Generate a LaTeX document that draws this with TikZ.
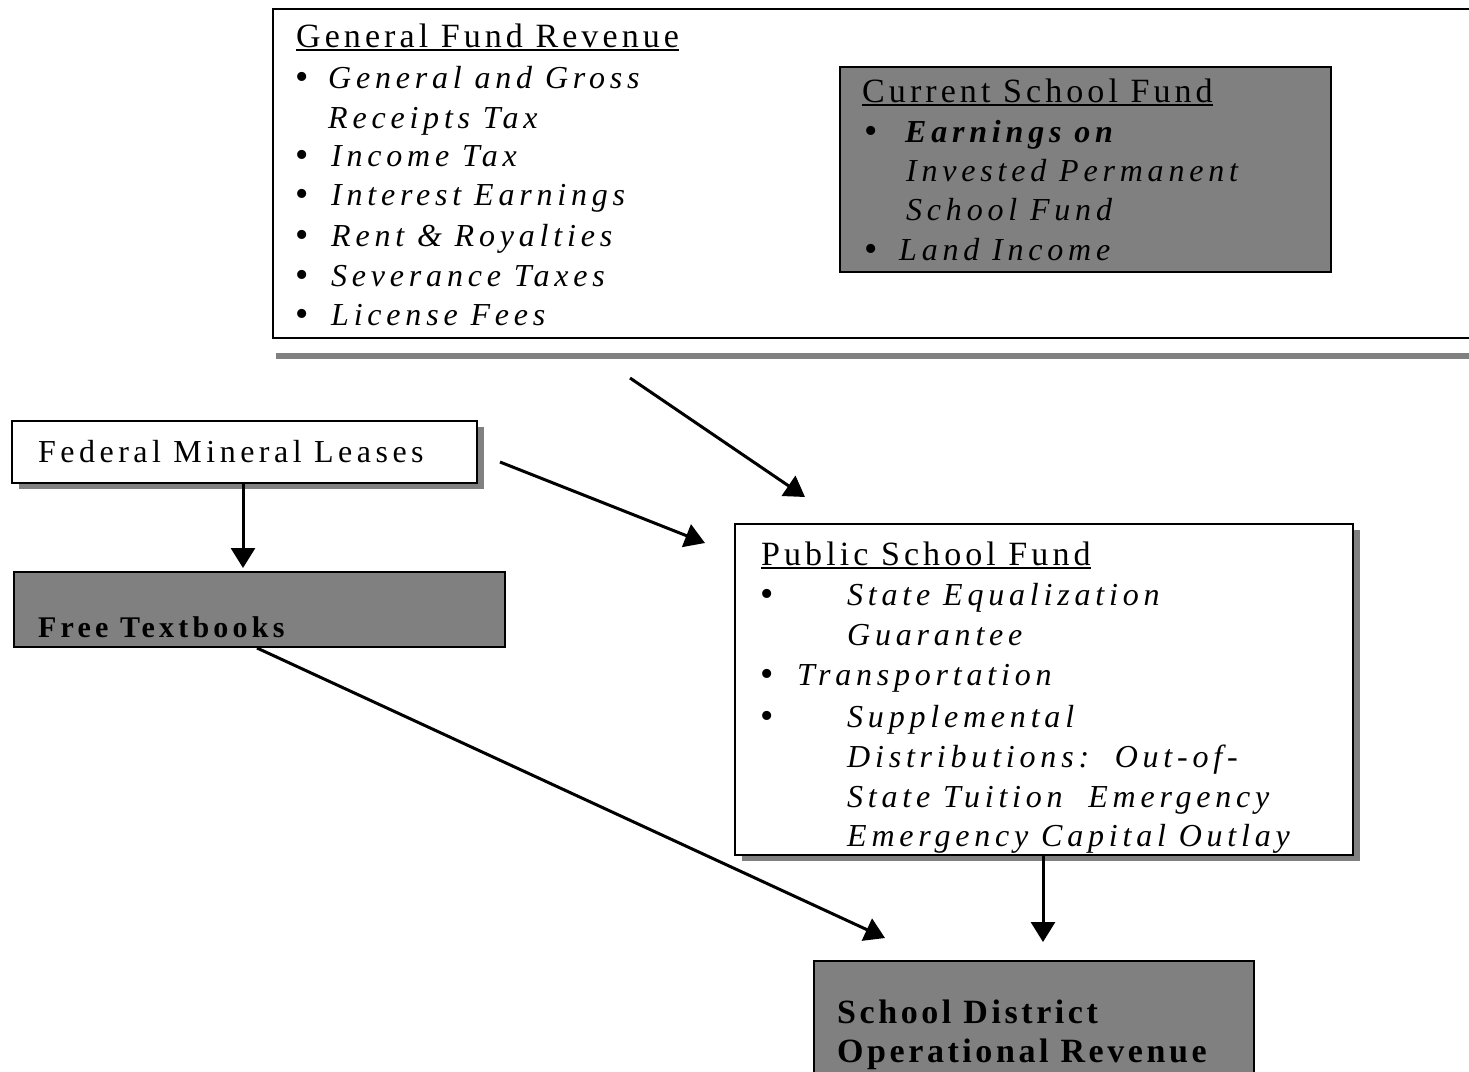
\documentclass[tikz,border=0pt]{standalone}
\usepackage{fontspec}
\usetikzlibrary{arrows.meta,shadows}
\setmainfont{Liberation Serif}
\newfontfamily\hdfam{Liberation Serif}[LetterSpace=12]
\newfontfamily\itfam{Liberation Serif}[LetterSpace=15]
\newfontfamily\fmfam{Liberation Serif}[LetterSpace=14]
\newfontfamily\bdfam{Liberation Serif}[LetterSpace=14]
\newfontfamily\sdfam{Liberation Serif}[LetterSpace=10.5]
\definecolor{boxgray}{RGB}{128,128,128}
\newcommand\ulin[1]{\setbox0\hbox{#1}\rlap{\rule[-3.5pt]{\wd0}{1.8pt}}\box0}
\tikzset{
  box/.style={draw=black, line width=2.2pt, rectangle, inner sep=0pt, anchor=north west},
  graybox/.style={box, fill=boxgray},
  whitebox/.style={box, fill=white},
  shadowed/.style={general shadow={fill=boxgray, shadow xshift=7pt, shadow yshift=-6pt}},
  hd/.style={anchor=base west, inner sep=0pt, font=\hdfam\fontsize{34}{40}\selectfont},
  itm/.style={anchor=base west, inner sep=0pt, font=\itfam\itshape\fontsize{32}{40}\selectfont},
  bul/.style={anchor=base west, inner sep=0pt, font=\fontsize{38}{40}\selectfont},
  bd/.style={anchor=base west, inner sep=0pt, font=\bdfam\bfseries\fontsize{30}{40}\selectfont},
  sd/.style={anchor=base west, inner sep=0pt, font=\sdfam\bfseries\fontsize{34}{40}\selectfont},
  flow/.style={line width=3pt, -{Triangle[length=20pt,width=24pt]}},
}
\begin{document}
\begin{tikzpicture}[x=1pt,y=-1pt]
\useasboundingbox (0,0) rectangle (1469,1071);
\clip (0,0) rectangle (1469,1071);

% General Fund Revenue panel and its bar
\node[whitebox, minimum width=1220, minimum height=329] (gfr) at (272,8) {};
\fill[boxgray] (276,353) rectangle (1490,359);

\node[hd] (gfrh) at (296,47) {\ulin{General Fund Revenue}};
\node[bul] (gb1) at (295,89) {•};
\node[itm] (gi1) at (328,88) {General and Gross};
\node[itm] (gi1b) at (328,128) {Receipts Tax};
\node[bul] (gb2) at (295,167) {•};
\node[itm] (gi2) at (331,166) {Income Tax};
\node[bul] (gb3) at (295,206) {•};
\node[itm] (gi3) at (331,205) {Interest Earnings};
\node[bul] (gb4) at (295,247) {•};
\node[itm] (gi4) at (331,246) {Rent \& Royalties};
\node[bul] (gb5) at (295,287) {•};
\node[itm] (gi5) at (331,286) {Severance Taxes};
\node[bul] (gb6) at (295,326) {•};
\node[itm] (gi6) at (331,325) {License Fees};

% Current School Fund
\node[graybox, minimum width=491, minimum height=205] (csf) at (839,66) {};
\node[hd] (csfh) at (862,102) {\ulin{Current School Fund}};
\node[bul] (cb1) at (864,143) {•};
\node[itm, font=\itfam\bfseries\itshape\fontsize{32}{40}\selectfont] (ci1) at (905,142) {Earnings on};
\node[itm] (ci1b) at (906,181) {Invested Permanent};
\node[itm] (ci1c) at (906,220) {School Fund};
\node[bul] (cb2) at (864,261) {•};
\node[itm] (ci2) at (899,260) {Land Income};

% Federal Mineral Leases
\node[whitebox, shadowed, minimum width=465, minimum height=62] (fml) at (11,420) {};
\node[hd, font=\fmfam\fontsize{32}{40}\selectfont] (fmlt) at (38,462) {Federal Mineral Leases};

% Free Textbooks
\node[graybox, minimum width=491, minimum height=75] (ftb) at (13,571) {};
\node[bd] (ftbt) at (38,637) {Free Textbooks};

% Public School Fund
\node[whitebox, shadowed, minimum width=618, minimum height=331] (psf) at (734,523) {};
\node[hd] (psfh) at (761,565) {\ulin{Public School Fund}};
\node[bul] (pb1) at (760,606) {•};
\node[itm] (pi1) at (847,605) {State Equalization};
\node[itm] (pi1b) at (847,645) {Guarantee};
\node[bul] (pb2) at (760,686) {•};
\node[itm] (pi2) at (797,685) {Transportation};
\node[bul] (pb3) at (760,728) {•};
\node[itm] (pi3) at (847,727) {Supplemental};
\node[itm] (pi3b) at (847,767) {Distributions:\ \ Out-of-};
\node[itm] (pi3c) at (847,807) {State Tuition\ \ Emergency};
\node[itm] (pi3d) at (847,846) {Emergency Capital Outlay};

% School District Operational Revenue
\node[graybox, minimum width=440, minimum height=140] (sdr) at (813,960) {};
\node[sd] (sdr1) at (837,1023) {School District};
\node[sd] (sdr2) at (837,1062) {Operational Revenue};

% connector end points
\coordinate (g-out) at (630,378);
\coordinate (p-in1) at (805,497);
\coordinate (f-out) at (500,462);
\coordinate (p-in2) at (705,543);
\coordinate (f-down) at (243,483);
\coordinate (t-in) at (243,568);
\coordinate (t-out) at (257,648);
\coordinate (s-in1) at (885,938);
\coordinate (p-out) at (1043,855);
\coordinate (s-in2) at (1043,942);

\draw[flow] (g-out) -- (p-in1);
\draw[flow] (f-out) -- (p-in2);
\draw[flow] (f-down) -- (t-in);
\draw[flow] (t-out) -- (s-in1);
\draw[flow] (p-out) -- (s-in2);
\end{tikzpicture}
\end{document}
